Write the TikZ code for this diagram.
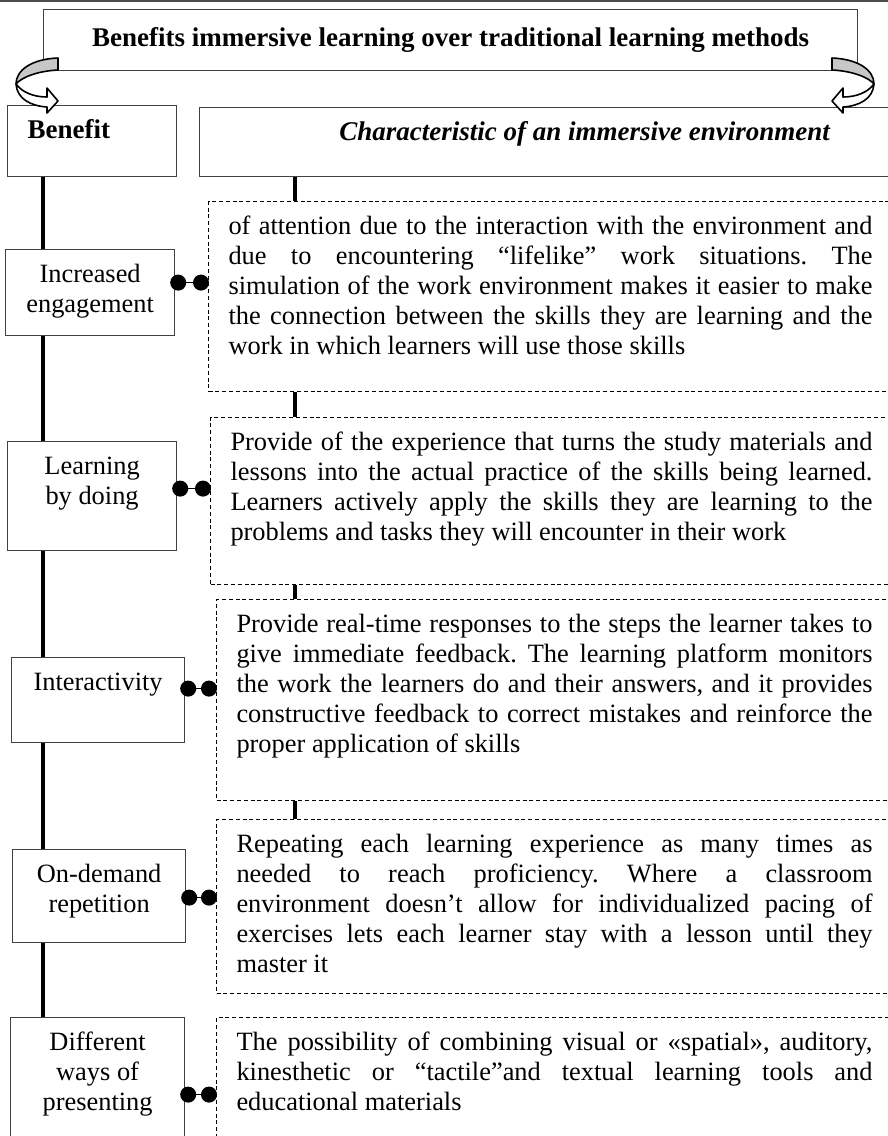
\documentclass[tikz,border=0pt]{standalone}
\usepackage{fontspec}
\setmainfont{Liberation Serif}
\usetikzlibrary{arrows.meta}
\frenchspacing
\newcommand{\linestrut}{\rule{0pt}{10.5pt}}

\begin{document}
\begin{tikzpicture}[x=0.5pt,y=-0.5pt,
                    font=\fontsize{13.2pt}{15pt}\selectfont,
                    boxed/.style={draw=black!75,line width=0.6pt,fill=white,anchor=north west,
                                  inner xsep=4pt,inner ysep=6pt},
                    header/.style={boxed,font=\fontsize{13.5pt}{15pt}\selectfont\bfseries},
                    descbox/.style={draw=black,line width=0.5pt,dash pattern=on 2pt off 1.4pt,
                                    anchor=north west,inner xsep=10pt,inner ysep=6pt},
                    spine/.style={line width=2pt},
                    dumbbell/.style={line width=0.75pt,{Circle[length=8pt]}-{Circle[length=8pt]},
                                     shorten <=-2.5pt,shorten >=-0.5pt},
                    twist/.style={draw=black,line width=0.8pt,line join=round}]
  \useasboundingbox (0,0) rectangle (888,1136);
  \clip (0,0) rectangle (888,1136);
  \draw[black!70,line width=1pt] (0,1) -- (888,1);

  % headings
  \node[header,minimum width=407pt,minimum height=30.5pt,inner sep=0pt] (title) at (43,9)
    {Benefits immersive learning over traditional learning methods};
  \node[header,inner xsep=10pt] (benefit) at (7,105)
    {\parbox[t][23.5pt][t]{64.5pt}{\linestrut Benefit}};
  \node[header] (charact) at (199,107)
    {\parbox[t][22.5pt][t]{377pt}{\centering\linestrut\itshape Characteristic of an immersive environment}};

  % benefits
  \node[boxed] (engage) at (5,249)
    {\parbox[t][31pt][t]{76.5pt}{\centering\linestrut Increased\\engagement}};
  \node[boxed] (doing) at (7,441)
    {\parbox[t][42.5pt][t]{76.5pt}{\centering\linestrut Learning\\by doing}};
  \node[boxed] (inter) at (11,657)
    {\parbox[t][30.5pt][t]{78.5pt}{\centering\linestrut Interactivity}};
  \node[boxed] (demand) at (12,849)
    {\parbox[t][34.5pt][t]{78.5pt}{\centering\linestrut On-demand\\repetition}};
  \node[boxed] (ways) at (10,1017)
    {\parbox[t][63pt][t]{79pt}{\centering\linestrut Different\\ways of\\presenting}};

  % characteristics
  \node[descbox] (d1) at (208,201)
    {\parbox[t][83pt][t]{322pt}{\linestrut of attention due to the interaction with the environment and\linebreak
     due to encountering “lifelike” work situations. The\linebreak
     simulation of the work environment makes it easier to make\linebreak
     the connection between the skills they are learning and the\linebreak
     work in which learners will use those skills}};
  \node[descbox] (d2) at (210,417)
    {\parbox[t][71.5pt][t]{321pt}{\linestrut Provide of the experience that turns the study materials and\linebreak
     lessons into the actual practice of the skills being learned.\linebreak
     Learners actively apply the skills they are learning to the\linebreak
     problems and tasks they will encounter in their work}};
  \node[descbox] (d3) at (216,599)
    {\parbox[t][88.5pt][t]{318pt}{\linestrut Provide real-time responses to the steps the learner takes to\linebreak
     give immediate feedback. The learning platform monitors\linebreak
     the work the learners do and their answers, and it provides\linebreak
     constructive feedback to correct mistakes and reinforce the\linebreak
     proper application of skills}};
  \node[descbox] (d4) at (216,819)
    {\parbox[t][75pt][t]{318pt}{\linestrut Repeating each learning experience as many times as\linebreak
     needed to reach proficiency. Where a classroom\linebreak
     environment doesn’t allow for individualized pacing of\linebreak
     exercises lets each learner stay with a lesson until they\linebreak
     master it}};
  \node[descbox] (d5) at (216,1017)
    {\parbox[t][63pt][t]{318pt}{\linestrut The possibility of combining visual or «spatial», auditory,\linebreak
     kinesthetic or “tactile”and textual learning tools and\linebreak
     educational materials}};

  % links
  \coordinate (lx) at (43,0);
  \coordinate (rx) at (295,0);
  \foreach \a/\b in {benefit/engage,engage/doing,doing/inter,inter/demand,demand/ways}
    \draw[spine] (\a.south -| lx) -- (\b.north -| lx);
  \foreach \a/\b in {charact/d1,d1/d2,d2/d3,d3/d4}
    \draw[spine,line width=1.6pt] (\a.south -| rx) -- (\b.north -| rx);
  \foreach \a/\b/\dy in {engage/d1/5pt,doing/d2/3.75pt,inter/d3/5.75pt,demand/d4/-0.75pt,ways/d5/-1pt}
    \draw[dumbbell] ([yshift=\dy]\a.east) -- ([yshift=\dy]\a.east -| \b.west);

  % bent arrows from the title
  \foreach \mx/\sx in {0/1,890/-1}{
    \begin{scope}[shift={(\mx,0)},xscale=\sx]
      \filldraw[twist,fill=black!22] (58,58) .. controls (32,59) and (16,70) .. (16,84)
        .. controls (22,77) and (38,71) .. (58,70) -- cycle;
      \filldraw[twist,fill=white] (16,84) .. controls (17,99) and (31,106) .. (47,107)
        -- (47,113) -- (58,101) -- (47,88) -- (47,97) .. controls (33,97) and (22,92) .. (16,84) -- cycle;
    \end{scope}}
\end{tikzpicture}
\end{document}
